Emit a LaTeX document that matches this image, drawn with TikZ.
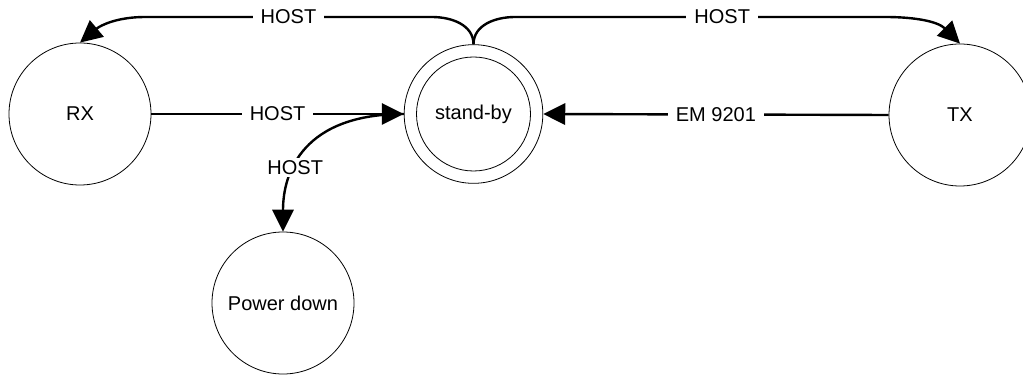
\documentclass[tikz,border=0pt]{standalone}
\usepackage{fontspec}
\setmainfont{Liberation Sans}
\usetikzlibrary{arrows.meta}
\begin{document}
\begin{tikzpicture}
[x=0.75pt,y=0.75pt,
state/.style={shape=circle,draw,line width=0.6pt,minimum size=106.5pt,inner sep=0pt},
trans/.style={draw,line width=1.8pt,-{Triangle[length=16.5pt,width=16pt]}},
lbl/.style={fill=white,inner xsep=6pt,inner ysep=2pt}
]
\tikzset{every node/.style={font=\fontsize{15pt}{18pt}\selectfont}}
\useasboundingbox (0,0) rectangle (1023,375);
\node[state] (rx) at (80,261) {RX};
\node[state,minimum size=104pt] (sb) at (473.5,261) {stand-by};
\draw[line width=0.6pt] (sb.center) circle[radius=42.75pt];
\node[state] (tx) at (960,260) {TX};
\node[state] (pd) at (283,72) {Power down};
% corners of the two upper arcs
\coordinate (ul) at (432,358);
\coordinate (ur) at (515,358);
\coordinate (ull) at (145,358);
\coordinate (urr) at (885,358);
\path[trans] (sb.north) to[out=90,in=0] (ul) -- node[lbl] {HOST} (ull)
    to[out=180,in=40] (rx.north);
\path[trans] (sb.north) to[out=90,in=180] (ur) -- node[lbl,pos=0.56] {HOST} (urr)
    to[out=0,in=135] (tx.north);
\path[trans] (rx.east) -- node[lbl] {HOST} (sb.west);
\path[trans] (tx.west) -- node[lbl] {EM 9201} (sb.east);
\path[trans] (sb.west) .. controls +(-100,0) and +(0,60) .. node[lbl,pos=0.62] {HOST} (pd.north);
\end{tikzpicture}
\end{document}
